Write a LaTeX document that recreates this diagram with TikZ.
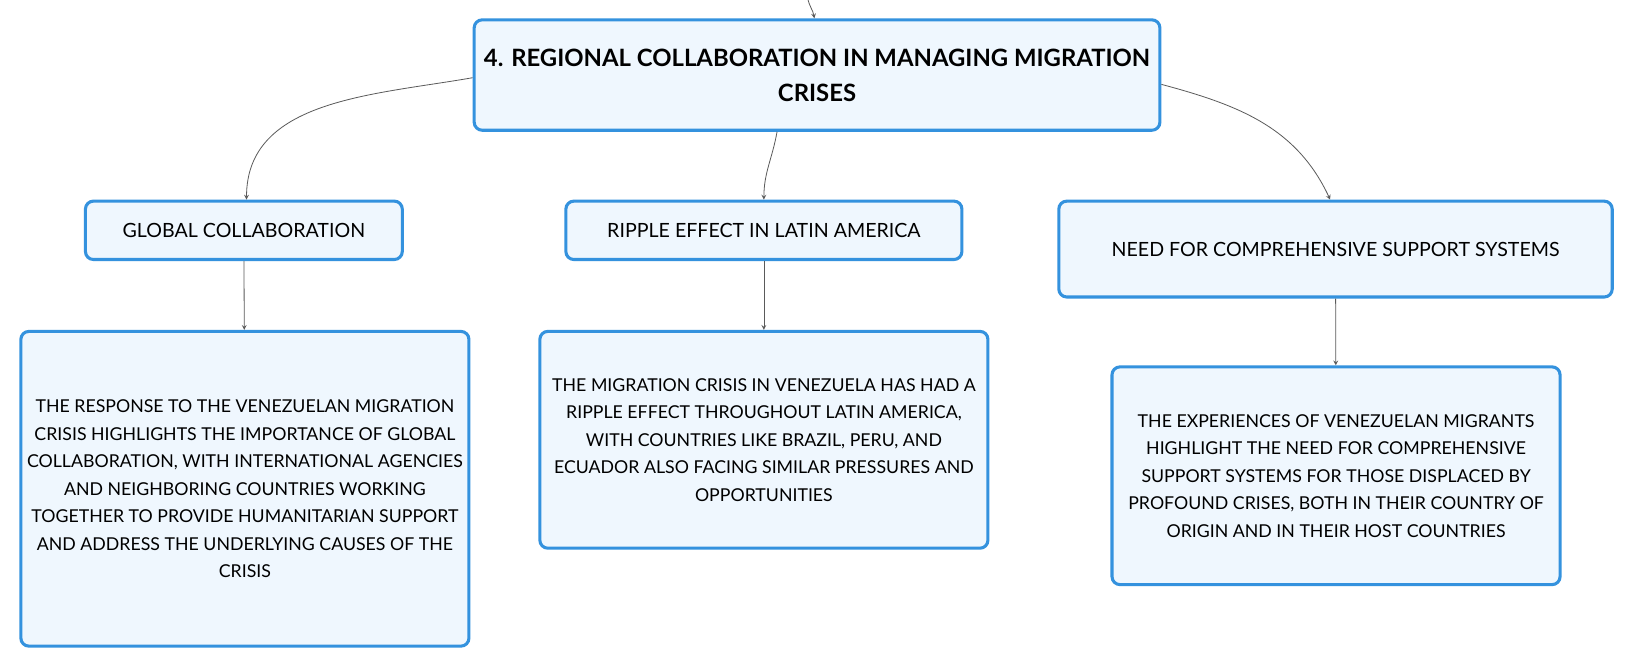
\documentclass[tikz,border=0pt]{standalone}
\usepackage{fontspec}
\setmainfont{Lato}
\usetikzlibrary{positioning}
\definecolor{boxline}{RGB}{52,146,222}
\definecolor{boxfill}{RGB}{239,247,254}
\definecolor{linkgray}{RGB}{90,90,90}
\begin{document}
\begin{tikzpicture}[
        x=0.7815pt, y=-0.7815pt,
        box/.style={rectangle, draw=boxline, fill=boxfill, line width=2.3pt, rounded corners=6pt, align=center, font=\fontsize{13.3}{20.6}\selectfont, inner sep=0pt},
        topicbox/.style={box, font=\fontsize{14.7}{20}\selectfont},
        rootbox/.style={box, font=\fontsize{17.9}{26.3}\selectfont\bfseries},
        arrow/.style={->, >=stealth, draw=linkgray, line width=0.6pt}
    ]
        \useasboundingbox[fill=white] (0,0) rectangle (1566,639);
        \coordinate (top) at (775,-2);

        % Main topic
        \node[rootbox, minimum width=514.2pt, minimum height=82.8pt] (root) at (784,72) {4. REGIONAL COLLABORATION IN MANAGING MIGRATION\\CRISES};

        % Subtopics
        \node[topicbox, minimum width=237.6pt, minimum height=43.8pt] (global) at (234,221) {GLOBAL COLLABORATION};
        \node[topicbox, minimum width=297pt, minimum height=43.8pt] (ripple) at (733,221) {RIPPLE EFFECT IN LATIN AMERICA};
        \node[topicbox, minimum width=415pt, minimum height=71.9pt] (support) at (1281.5,239) {NEED FOR COMPREHENSIVE SUPPORT SYSTEMS};

        % Details
        \node[box, minimum width=336pt, minimum height=236pt] (globaltext) at (235,469) {THE RESPONSE TO THE VENEZUELAN MIGRATION\\CRISIS HIGHLIGHTS THE IMPORTANCE OF GLOBAL\\COLLABORATION, WITH INTERNATIONAL AGENCIES\\AND NEIGHBORING COUNTRIES WORKING\\TOGETHER TO PROVIDE HUMANITARIAN SUPPORT\\AND ADDRESS THE UNDERLYING CAUSES OF THE\\CRISIS};
        \node[box, minimum width=336pt, minimum height=162.6pt] (rippletext) at (733,422) {THE MIGRATION CRISIS IN VENEZUELA HAS HAD A\\RIPPLE EFFECT THROUGHOUT LATIN AMERICA,\\WITH COUNTRIES LIKE BRAZIL, PERU, AND\\ECUADOR ALSO FACING SIMILAR PRESSURES AND\\OPPORTUNITIES};
        \node[box, minimum width=336pt, minimum height=163.3pt] (supporttext) at (1282,456.5) {THE EXPERIENCES OF VENEZUELAN MIGRANTS\\HIGHLIGHT THE NEED FOR COMPREHENSIVE\\SUPPORT SYSTEMS FOR THOSE DISPLACED BY\\PROFOUND CRISES, BOTH IN THEIR COUNTRY OF\\ORIGIN AND IN THEIR HOST COUNTRIES};

        % Arrows
        \draw[arrow] (top) to[out=-80,in=100] ([xshift=-2pt]root.north);
        \draw[arrow] ([yshift=-2pt]root.west) to[out=190,in=90] ([xshift=2pt]global.north);
        \draw[arrow] ([xshift=-30pt]root.south) to[out=-100,in=90] (ripple.north);
        \draw[arrow] ([yshift=-7pt]root.east) to[out=-15,in=115] ([xshift=-4pt]support.north);
        \draw[arrow] (global) -- (globaltext);
        \draw[arrow] (ripple) -- (rippletext);
        \draw[arrow] (support) -- (supporttext);

    \end{tikzpicture}
\end{document}
